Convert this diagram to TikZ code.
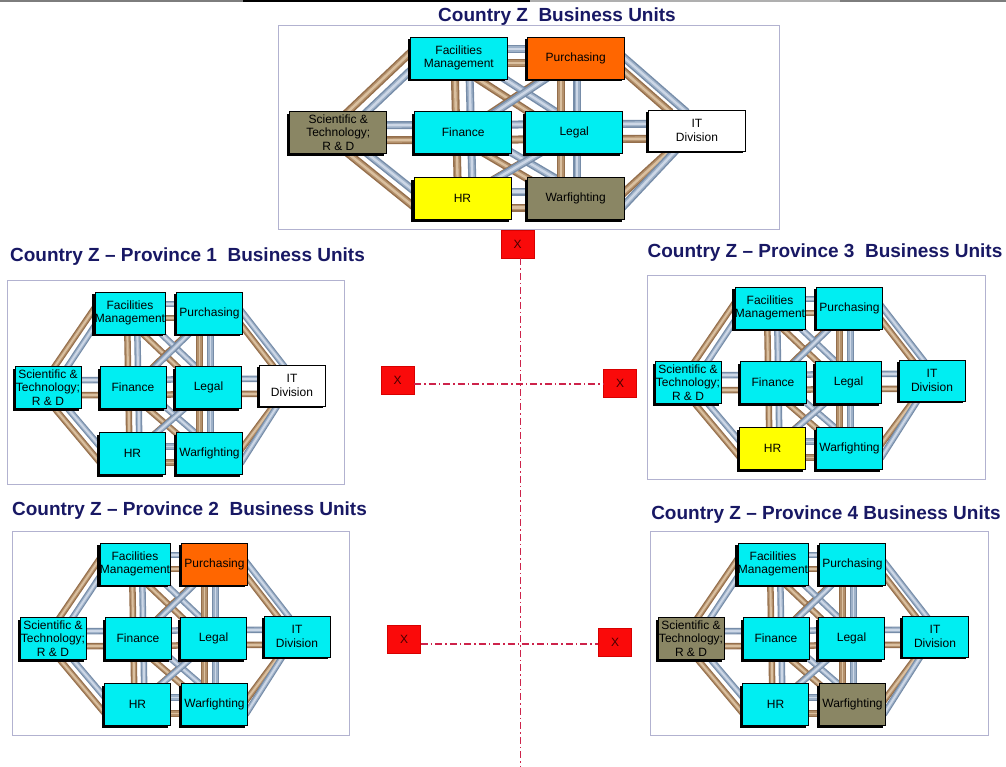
\documentclass[tikz,border=0pt]{standalone}
\usepackage{fontspec}
\setmainfont{Liberation Sans}
\usetikzlibrary{shadows}
\definecolor{cyb}{RGB}{0,238,242}
\definecolor{orb}{RGB}{255,102,0}
\definecolor{yeb}{RGB}{255,255,0}
\definecolor{olb}{RGB}{138,134,100}
\definecolor{whb}{RGB}{255,255,255}
\definecolor{navy}{RGB}{24,24,100}
\definecolor{framec}{RGB}{178,178,208}
\definecolor{bdk}{RGB}{118,140,168}
\definecolor{bmd}{RGB}{158,177,200}
\definecolor{bhi}{RGB}{205,215,230}
\definecolor{rdk}{RGB}{148,110,75}
\definecolor{rmd}{RGB}{180,145,108}
\definecolor{rhi}{RGB}{218,192,160}
\definecolor{xred}{RGB}{250,10,10}
\definecolor{xredd}{RGB}{215,0,0}
\definecolor{xtxt}{RGB}{70,0,0}
\definecolor{dashc}{RGB}{205,35,75}
\definecolor{topg}{RGB}{125,125,125}
\definecolor{topl}{RGB}{175,175,175}

\pgfdeclarelayer{back}
\pgfdeclarelayer{bg}
\pgfsetlayers{back,bg,main}

\tikzset{
  bu/.style={draw=black, line width=0.7pt, inner sep=0pt, minimum height=42pt,
    align=center, font=\fontsize{12}{13.5}\selectfont,
    drop shadow={shadow xshift=-2.5pt, shadow yshift=-2pt, fill=black, opacity=1}},
  frame/.style={draw=framec, line width=1.3pt, inner sep=0pt},
  ttl/.style={font=\fontsize{19}{22}\selectfont\bfseries, text=navy, inner sep=0pt},
  xbox/.style={fill=xred, draw=xredd, line width=0.5pt, minimum width=33pt,
    minimum height=28pt, inner sep=0pt, font=\fontsize{12}{12}\selectfont, text=xtxt},
  dashl/.style={draw=dashc, line width=1.3pt, dash pattern=on 7pt off 3pt on 1.5pt off 3pt}
}

\def\setcols#1#2#3#4#5#6#7#8{\def\cFac{#1}\def\cPur{#2}\def\cSt{#3}\def\cFin{#4}%
  \def\cLeg{#5}\def\cIt{#6}\def\cHr{#7}\def\cWar{#8}}

\newcommand\tube[3]{%
  \draw[line width=\tubw pt, draw=#1dk, shorten <=-4pt, shorten >=-4pt] #2 -- #3;
  \draw[line width=\tubm pt, draw=#1md, shorten <=-4pt, shorten >=-4pt] #2 -- #3;
  \draw[line width=\tubh pt, draw=#1hi, shorten <=-4pt, shorten >=-4pt] #2 -- #3;
}

% #1 prefix, #2 ox, #3 oy, #4 xscale, #5 frame width, #6 tube width
\newcommand\panel[6]{%
  \pgfmathsetmacro\kk{#4}%
  \pgfmathsetmacro\boxw{66*#4}%
  \pgfmathsetmacro\tubw{#6}%
  \pgfmathsetmacro\tubm{0.65*#6}%
  \pgfmathsetmacro\tubh{0.3*#6}%
  \node[frame, minimum width=#5pt, minimum height=204pt, anchor=north west] (#1frame) at (#2,#3) {};
  \node[bu, fill=\cFac, minimum width=\boxw pt] (#1fac) at ({#2+123*\kk},{#3+33}) {Facilities\\Management};
  \node[bu, fill=\cPur, minimum width=\boxw pt] (#1pur) at ({#2+202.5*\kk},{#3+33}) {Purchasing};
  \node[bu, fill=\cSt, minimum width=\boxw pt] (#1st) at ({#2+41*\kk},{#3+107.5}) {Scientific \&\\Technology;\\R \& D};
  \node[bu, fill=\cFin, minimum width=\boxw pt] (#1fin) at ({#2+126*\kk},{#3+107.5}) {Finance};
  \node[bu, fill=\cLeg, minimum width=\boxw pt] (#1leg) at ({#2+201.5*\kk},{#3+107.5}) {Legal};
  \node[bu, fill=\cIt, minimum width=\boxw pt, minimum height=41pt] (#1it) at ({#2+285*\kk},{#3+105.5}) {IT\\Division};
  \node[bu, fill=\cHr, minimum width=\boxw pt] (#1hr) at ({#2+125.5*\kk},{#3+173.5}) {HR};
  \node[bu, fill=\cWar, minimum width=\boxw pt] (#1war) at ({#2+202.5*\kk},{#3+173.5}) {Warfighting};
  \begin{pgfonlayer}{bg}
  % crosses
  \tube{r}{([xshift={-5*\kk},yshift=-4]#1fac.center)}{([xshift={-5*\kk},yshift=-4]#1leg.center)}
  \tube{r}{([xshift={-5*\kk},yshift=-4]#1pur.center)}{([xshift={-5*\kk},yshift=-4]#1fin.center)}
  \tube{b}{([xshift={5*\kk},yshift=4]#1fac.center)}{([xshift={5*\kk},yshift=4]#1leg.center)}
  \tube{b}{([xshift={5*\kk},yshift=4]#1pur.center)}{([xshift={5*\kk},yshift=4]#1fin.center)}
  \tube{r}{([xshift={-5*\kk},yshift=-4]#1fin.center)}{([xshift={-5*\kk},yshift=-4]#1war.center)}
  \tube{r}{([xshift={-5*\kk},yshift=-4]#1leg.center)}{([xshift={-5*\kk},yshift=-4]#1hr.center)}
  \tube{b}{([xshift={5*\kk},yshift=4]#1fin.center)}{([xshift={5*\kk},yshift=4]#1war.center)}
  \tube{b}{([xshift={5*\kk},yshift=4]#1leg.center)}{([xshift={5*\kk},yshift=4]#1hr.center)}
  % octagon diagonals
  \tube{r}{([xshift={7*\kk}]#1st.north)}{([yshift=5]#1fac.west)}
  \tube{b}{([xshift={20*\kk}]#1st.north)}{([yshift=-13]#1fac.west)}
  \tube{r}{([xshift={7*\kk}]#1st.south)}{([yshift=-8]#1hr.west)}
  \tube{b}{([xshift={20*\kk}]#1st.south)}{([yshift=8]#1hr.west)}
  \tube{b}{(#1pur.east)}{([xshift={-9*\kk}]#1it.north)}
  \tube{r}{([yshift=-14]#1pur.east)}{([xshift={-20*\kk}]#1it.north)}
  \tube{r}{([xshift={-19*\kk}]#1it.south)}{([yshift=6.5]#1war.east)}
  \tube{b}{([xshift={-15*\kk}]#1it.south)}{([yshift=-6.5]#1war.east)}
  % verticals
  \tube{r}{([xshift={-3*\kk}]#1fac.center)}{([xshift={-3*\kk}]#1hr.center)}
  \tube{b}{([xshift={7*\kk}]#1fac.center)}{([xshift={7*\kk}]#1hr.center)}
  \tube{r}{([xshift={-10*\kk}]#1pur.center)}{([xshift={-10*\kk}]#1war.center)}
  \tube{b}{([xshift={1*\kk}]#1pur.center)}{([xshift={1*\kk}]#1war.center)}
  % horizontals
  \tube{b}{([yshift=9]#1fac.center)}{([yshift=9]#1pur.center)}
  \tube{r}{([yshift=-5]#1fac.center)}{([yshift=-5]#1pur.center)}
  \tube{b}{([yshift=7]#1st.center)}{([yshift=7]#1it.center)}
  \tube{r}{([yshift=-8]#1st.center)}{([yshift=-8]#1it.center)}
  \tube{b}{([yshift=7]#1hr.center)}{([yshift=7]#1war.center)}
  \tube{r}{([yshift=-9]#1hr.center)}{([yshift=-9]#1war.center)}
  \end{pgfonlayer}
}

\begin{document}
\begin{tikzpicture}[x=1pt,y=-1pt]
\begin{pgfonlayer}{back}
\fill[white] (0,0) rectangle (1006,766);
\end{pgfonlayer}
\useasboundingbox (0,0) rectangle (1006,766);
% top edge strip
\draw[line width=2pt, draw=topg] (0,1) -- (243,1);
\draw[line width=2pt, draw=black] (243,1) -- (530,1);
\draw[line width=1.5pt, draw=topl] (530,1) -- (840,1);
\draw[line width=2pt, draw=topg] (840,1) -- (1006,1);

% titles
\node[ttl] (t0) at (557,17) {Country Z\ \ Business Units};
\node[ttl] (t1) at (187.5,257) {Country Z – Province 1\ \ Business Units};
\node[ttl] (t3) at (825,253) {Country Z – Province 3\ \ Business Units};
\node[ttl] (t2) at (189.5,511) {Country Z – Province 2\ \ Business Units};
\node[ttl] (t4) at (826,515) {Country Z – Province 4 Business Units};

% panels
\setcols{cyb}{orb}{olb}{cyb}{cyb}{whb}{yeb}{olb}
\panel{z}{278}{25}{1.47}{501}{8}
\setcols{cyb}{cyb}{cyb}{cyb}{cyb}{whb}{cyb}{cyb}
\panel{pa}{7}{280}{1}{337}{6.5}
\setcols{cyb}{cyb}{cyb}{cyb}{cyb}{cyb}{yeb}{cyb}
\panel{pc}{647}{275}{1}{338}{6.5}
\setcols{cyb}{orb}{cyb}{cyb}{cyb}{cyb}{cyb}{cyb}
\panel{pb}{12}{531}{1}{337}{6.5}
\setcols{cyb}{cyb}{olb}{cyb}{cyb}{cyb}{cyb}{olb}
\panel{pd}{650}{531}{1}{338}{6.5}

% red X markers and dash-dot links
\node[xbox] (xt) at (517.5,244) {X};
\node[xbox] (xl1) at (397.5,380) {X};
\node[xbox] (xr1) at (620,383.5) {X};
\node[xbox] (xl2) at (404,639) {X};
\node[xbox] (xr2) at (615,642.5) {X};
\coordinate (vb) at (520.5,766);
\draw[dashl] ([xshift=3pt]xt.south) -- (vb);
\draw[dashl] ([yshift=-4pt]xl1.east) -- ([yshift=-0.5pt]xr1.west);
\draw[dashl] ([yshift=-5pt]xl2.east) -- ([yshift=-1.5pt]xr2.west);
\end{tikzpicture}
\end{document}
